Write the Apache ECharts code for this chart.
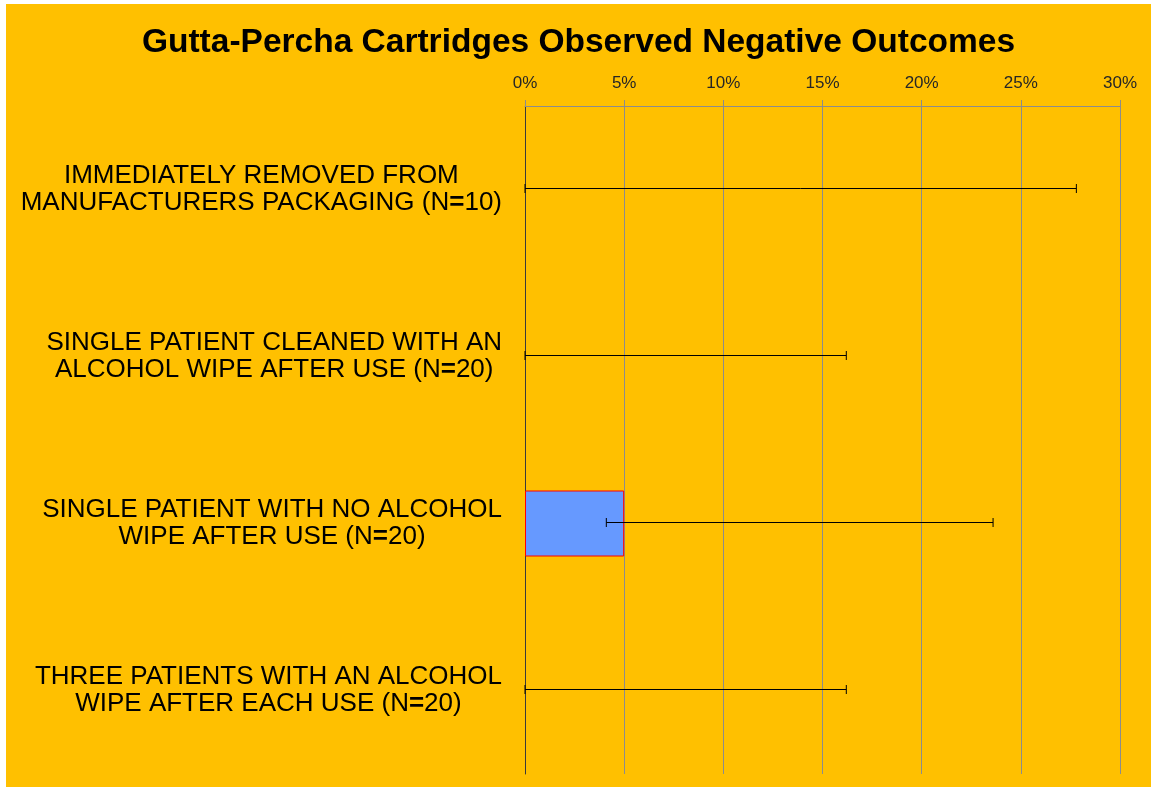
<!DOCTYPE html>
<html>
<head>
<meta charset="utf-8">
<script src="https://cdn.jsdelivr.net/npm/echarts@6/dist/echarts.min.js"></script>
<style>
  html, body { margin: 0; padding: 0; background: #ffffff; }
  #chart { position: absolute; left: 6px; top: 4px; width: 1145px; height: 783px; }
</style>
</head>
<body>
<div id="chart"></div>
<script>
const titleText = 'Gutta-Percha Cartridges Observed Negative Outcomes';
const categories = [
  'IMMEDIATELY REMOVED FROM\nMANUFACTURERS PACKAGING (N=10)',
  'SINGLE PATIENT CLEANED WITH AN\nALCOHOL WIPE AFTER USE (N=20)',
  'SINGLE PATIENT WITH NO ALCOHOL\nWIPE AFTER USE (N=20)',
  'THREE PATIENTS WITH AN ALCOHOL\nWIPE AFTER EACH USE (N=20)'
];
const outcomeValues = [0, 0, 5, 0];
const errorLow = [0, 0, 4.1, 0];
const errorHigh = [27.8, 16.2, 23.6, 16.2];
const xTicks = [0, 5, 10, 15, 20, 25, 30];

const chart = echarts.init(document.getElementById('chart'));

function labelFormatter(v) {
  return v.split('\n').map(line =>
    '{t|' + line.split('=').join('}{eq|=}{t|') + '}'
  ).join('\n');
}

const option = {
  backgroundColor: '#FFC000',
  animation: false,
  title: {
    text: titleText,
    left: 'center',
    top: 17,
    textStyle: {
      fontFamily: 'Liberation Sans, Arial, sans-serif',
      fontWeight: 'bold',
      fontSize: 33.5,
      color: '#000000'
    }
  },
  grid: { left: 519, right: 31, top: 102, bottom: 13, containLabel: false, outerBoundsMode: 'none' },
  xAxis: {
    type: 'value',
    position: 'top',
    min: xTicks[0],
    max: xTicks[xTicks.length - 1],
    interval: 5,
    axisLine: { show: true, lineStyle: { color: '#8c8c8c', width: 1 } },
    axisTick: { show: true, length: 6, lineStyle: { color: '#8c8c8c' } },
    axisLabel: {
      formatter: '{value}%',
      margin: 14,
      fontFamily: 'Liberation Sans, Arial, sans-serif',
      fontSize: 17,
      color: '#262626'
    },
    splitLine: { show: true, lineStyle: { color: '#8c8c8c', width: 1 } }
  },
  yAxis: {
    type: 'category',
    data: categories,
    inverse: true,
    axisLine: { show: true, onZero: false, lineStyle: { color: '#3a3a3a', width: 1 } },
    axisTick: { show: false },
    axisLabel: {
      margin: 23,
      formatter: labelFormatter,
      rich: {
        t: {
          fontFamily: 'Liberation Sans, Arial, sans-serif',
          fontSize: 26,
          lineHeight: 27,
          color: '#000000',
          align: 'center'
        },
        eq: {
          fontFamily: 'Liberation Sans, Arial, sans-serif',
          fontWeight: 900,
          fontSize: 26,
          lineHeight: 27,
          color: '#000000',
          align: 'center'
        }
      }
    }
  },
  series: [
    {
      type: 'bar',
      barWidth: 66,
      data: outcomeValues.map(v => ({
        value: v,
        itemStyle: {
          color: '#6699FF',
          borderColor: '#FF0000',
          borderWidth: v === 0 ? 0 : 1
        }
      })),
      z: 2
    },
    {
      type: 'custom',
      z: 5,
      data: categories.map((c, i) => [errorLow[i], errorHigh[i], i]),
      encode: { x: [0, 1], y: 2 },
      renderItem: function (params, api) {
        const cat = api.value(2);
        const lo = api.coord([api.value(0), cat]);
        const hi = api.coord([api.value(1), cat]);
        const y = lo[1] - 1;
        const h = 4.5;
        const st = { stroke: '#000000', lineWidth: 1 };
        return {
          type: 'group',
          children: [
            { type: 'line', shape: { x1: lo[0], y1: y, x2: hi[0], y2: y }, style: st },
            { type: 'line', shape: { x1: lo[0], y1: y - h, x2: lo[0], y2: y + h }, style: st },
            { type: 'line', shape: { x1: hi[0], y1: y - h, x2: hi[0], y2: y + h }, style: st }
          ]
        };
      }
    }
  ]
};
chart.setOption(option);
</script>
</body>
</html>
